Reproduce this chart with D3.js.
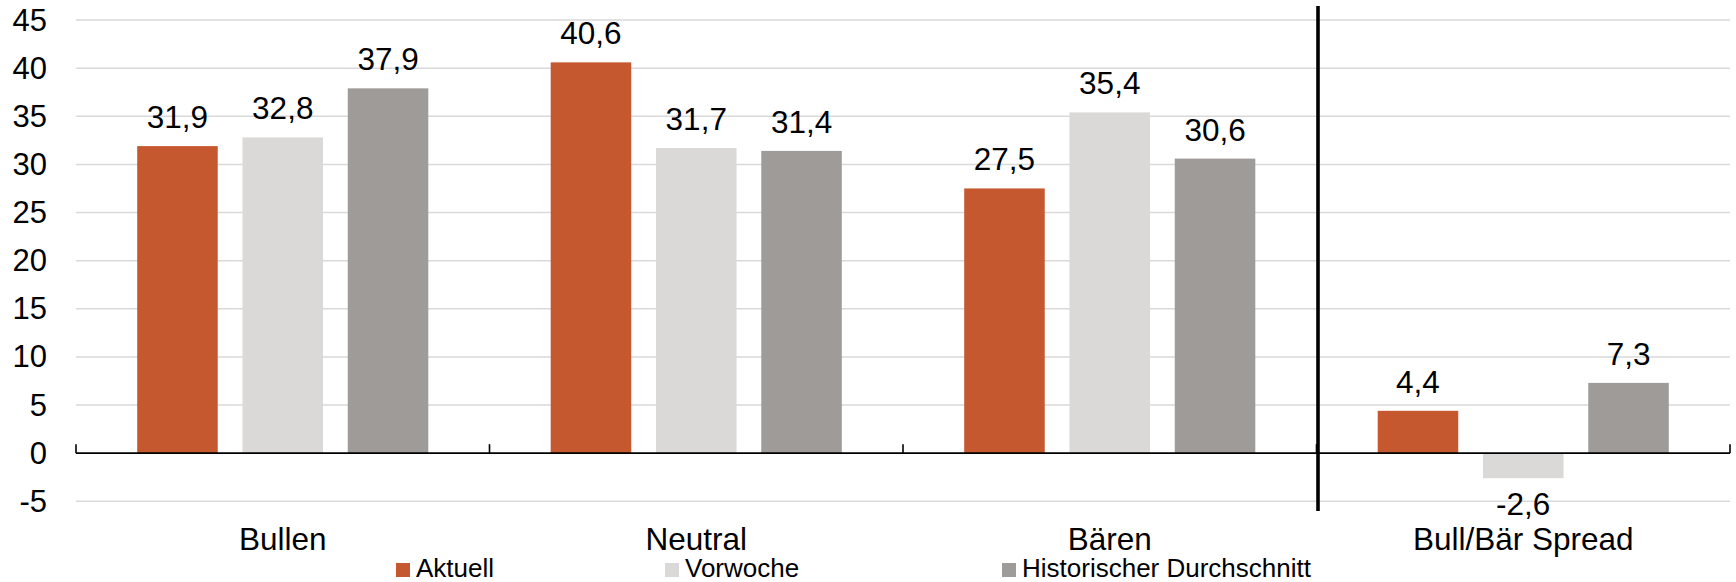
<!DOCTYPE html>
<html>
<head>
<meta charset="utf-8">
<script src="https://cdn.jsdelivr.net/npm/d3@7"></script>
<style>
  html, body { margin: 0; padding: 0; background: #fff; }
  svg { display: block; font-family: "Liberation Sans", Arial, sans-serif; }
</style>
</head>
<body>
<svg id="chart" width="1736" height="582"></svg>
<script>
// Sentiment survey: share of bulls, neutrals and bears, plus the bull/bear spread
const categories = ["Bullen", "Neutral", "Bären", "Bull/Bär Spread"];
const seriesNames = ["Aktuell", "Vorwoche", "Historischer Durchschnitt"];
const aktuell = [31.9, 40.6, 27.5, 4.4];
const vorwoche = [32.8, 31.7, 35.4, -2.6];
const historisch = [37.9, 31.4, 30.6, 7.3];
const yTicks = [-5, 0, 5, 10, 15, 20, 25, 30, 35, 40, 45];

const seriesValues = [aktuell, vorwoche, historisch];
const colors = ["#C5582F", "#DAD9D7", "#9F9B98"];

const svg = d3.select("#chart");
const plotLeft = 76, plotRight = 1730, plotTop = 20, plotBottom = 501.3;

const x0 = d3.scaleBand().domain(categories).range([plotLeft, plotRight]).paddingInner(0).paddingOuter(0);
const groupPad = x0.bandwidth() * 0.148;
const x1 = d3.scaleBand().domain(seriesNames)
  .range([groupPad, x0.bandwidth() - groupPad])
  .paddingInner(0.235).paddingOuter(0);
const y = d3.scaleLinear().domain([-5, 45]).range([plotBottom, plotTop]);

const fmt = v => d3.format(".1f")(v).replace(".", ",").replace("−", "-");

// Horizontal gridlines
svg.append("g").selectAll("line")
  .data(yTicks.filter(t => t !== 0))
  .join("line")
  .attr("x1", plotLeft).attr("x2", plotRight)
  .attr("y1", d => y(d)).attr("y2", d => y(d))
  .attr("stroke", "#D9D9D9").attr("stroke-width", 1.5);

// Y axis labels
svg.append("g").selectAll("text")
  .data(yTicks)
  .join("text")
  .attr("x", 47).attr("y", d => y(d))
  .attr("text-anchor", "end").attr("dominant-baseline", "central")
  .attr("font-size", 31).attr("fill", "#000")
  .text(d => d);

// Bars
const rows = [];
categories.forEach((c, i) => {
  seriesNames.forEach((s, j) => rows.push({ cat: c, series: s, j, v: seriesValues[j][i] }));
});

svg.append("g").selectAll("rect")
  .data(rows)
  .join("rect")
  .attr("x", d => x0(d.cat) + x1(d.series))
  .attr("width", x1.bandwidth())
  .attr("y", d => y(Math.max(0, d.v)))
  .attr("height", d => Math.abs(y(d.v) - y(0)))
  .attr("fill", d => colors[d.j]);

// Value labels
svg.append("g").selectAll("text")
  .data(rows)
  .join("text")
  .attr("x", d => x0(d.cat) + x1(d.series) + x1.bandwidth() / 2)
  .attr("y", d => d.v >= 0 ? y(d.v) - 18 : y(d.v) + 37)
  .attr("text-anchor", "middle")
  .attr("font-size", 31.5).attr("fill", "#000")
  .text(d => fmt(d.v));

// Category axis at zero with inward tick marks on the boundaries
const zeroY = y(0);
svg.append("line")
  .attr("x1", plotLeft).attr("x2", plotRight)
  .attr("y1", zeroY).attr("y2", zeroY)
  .attr("stroke", "#000").attr("stroke-width", 1.6);
const boundaries = categories.map(c => x0(c)).concat([plotRight]);
svg.append("g").selectAll("line")
  .data(boundaries)
  .join("line")
  .attr("x1", d => d).attr("x2", d => d)
  .attr("y1", zeroY).attr("y2", zeroY - 9)
  .attr("stroke", "#000").attr("stroke-width", 1.6);

// Category labels
svg.append("g").selectAll("text")
  .data(categories)
  .join("text")
  .attr("x", d => x0(d) + x0.bandwidth() / 2)
  .attr("y", 550)
  .attr("text-anchor", "middle")
  .attr("font-size", 31.5).attr("fill", "#000")
  .text(d => d);

// Divider separating the spread from the sentiment shares
const divX = x0(categories[3]) + 1.5;
svg.append("line")
  .attr("x1", divX).attr("x2", divX)
  .attr("y1", 6).attr("y2", 511)
  .attr("stroke", "#000").attr("stroke-width", 3.6);

// Legend
const legendX = [396, 665, 1002];
const legend = svg.append("g").selectAll("g")
  .data(seriesNames)
  .join("g")
  .attr("transform", (d, i) => `translate(${legendX[i]},563)`);
legend.append("rect")
  .attr("width", 14).attr("height", 14)
  .attr("fill", (d, i) => colors[i]);
legend.append("text")
  .attr("x", 20).attr("y", 13.5)
  .attr("font-size", 26).attr("fill", "#000")
  .text(d => d);
</script>
</body>
</html>
